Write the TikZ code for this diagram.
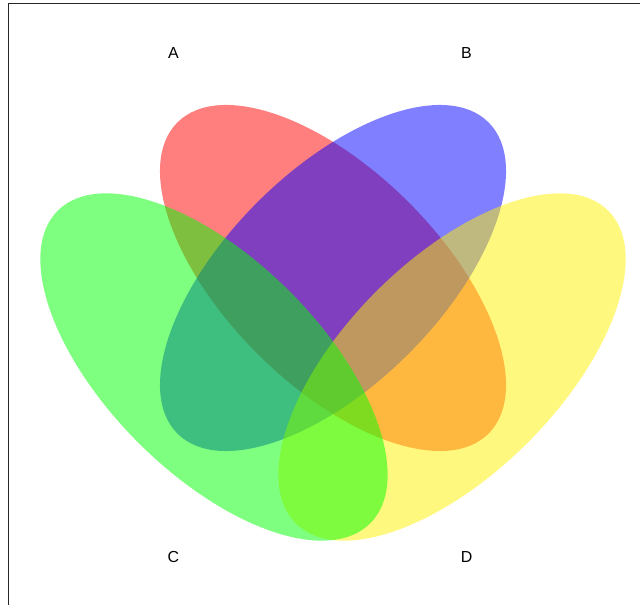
\documentclass[tikz,border=0pt]{standalone}
\usepackage{fontspec}
\setmainfont{Liberation Sans}
\begin{document}
\begin{tikzpicture}[x=1bp,y=1bp,
  setfill/.style={fill opacity=0.5, draw=none},
  setlabel/.style={font=\fontsize{16}{18}\selectfont, inner sep=0pt}]
\useasboundingbox (0,0) rectangle (640,605);
\fill[white] (0,0) rectangle (640,605);
% frame
\draw[line width=1bp, black!85] (8,0) -- (8,601) -- (640,601);
% sets: draw order A, B, D, C
\fill[setfill, red]    (333,327) ellipse [x radius=220, y radius=107, rotate=-45];
\fill[setfill, blue]   (333,327) ellipse [x radius=220, y radius=107, rotate=45];
\fill[setfill, yellow] (452,238) ellipse [x radius=221, y radius=107, rotate=45];
\fill[setfill, green]  (214,238) ellipse [x radius=221, y radius=107, rotate=-45];
% labels
\node[setlabel] (labA) at (173.5,552) {A};
\node[setlabel] (labB) at (466.5,552) {B};
\node[setlabel] (labC) at (173.5,48) {C};
\node[setlabel] (labD) at (466.5,48) {D};
\end{tikzpicture}
\end{document}
